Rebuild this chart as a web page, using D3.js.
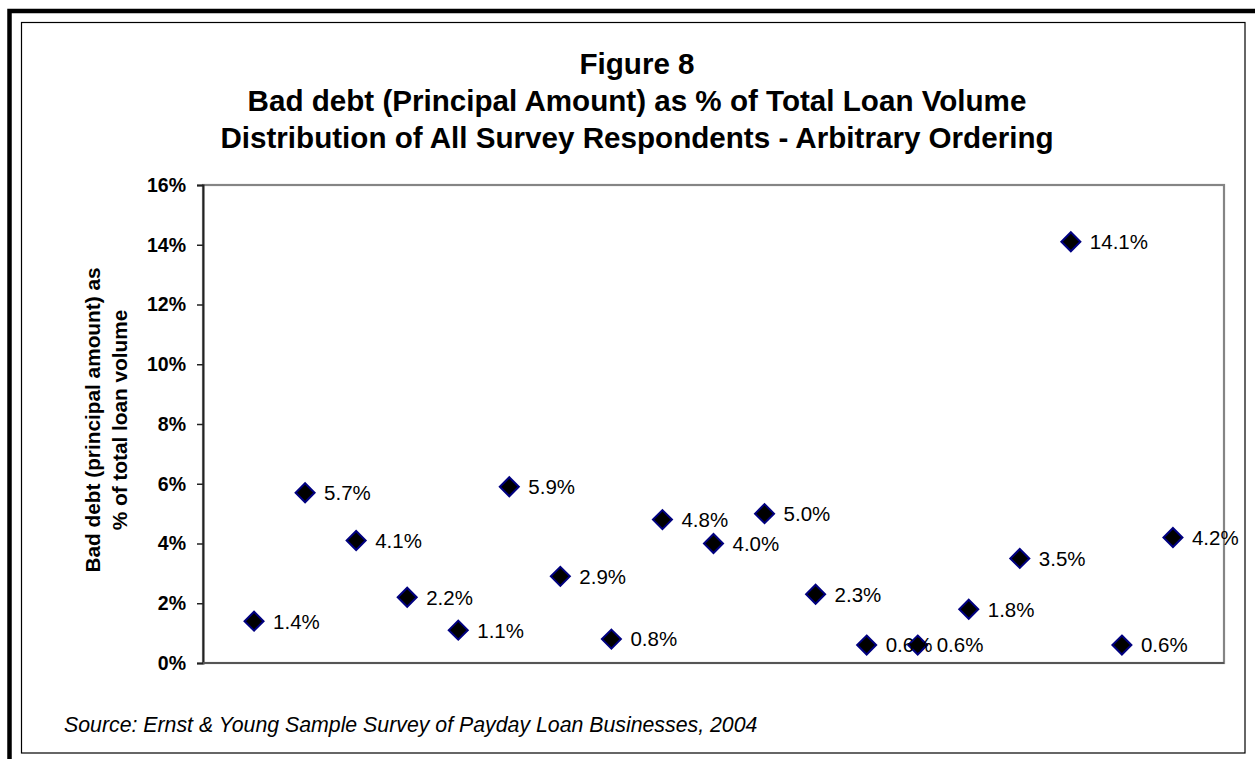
<!DOCTYPE html>
<html>
<head>
<meta charset="utf-8">
<script src="https://cdn.jsdelivr.net/npm/d3@7"></script>
<style>
  html, body { margin: 0; padding: 0; background: #fff; }
  svg { display: block; font-family: "Liberation Sans", Arial, sans-serif; }
</style>
</head>
<body>
<svg id="chart" width="1255" height="759"></svg>
<script>
// ---- data ----
const respondents = d3.range(1, 20); // 19 survey respondents, arbitrary ordering
const badDebtPct = [1.4, 5.7, 4.1, 2.2, 1.1, 5.9, 2.9, 0.8, 4.8, 4.0, 5.0, 2.3, 0.6, 0.6, 1.8, 3.5, 14.1, 0.6, 4.2];
const yTicks = [0, 2, 4, 6, 8, 10, 12, 14, 16];
const titleLines = [
  "Figure 8",
  "Bad debt (Principal Amount) as % of Total Loan Volume",
  "Distribution of All Survey Respondents - Arbitrary Ordering"
];
const yTitleLines = ["Bad debt (principal amount) as", "% of total loan volume"];
const sourceText = "Source: Ernst & Young Sample Survey of Payday Loan Businesses, 2004";

// ---- layout ----
const W = 1255, H = 759;
const plot = { left: 203, right: 1224, top: 185, bottom: 663 };

const svg = d3.select("#chart");

// frames
svg.append("rect").attr("x", 9.5).attr("y", 11).attr("width", W + 20).attr("height", H + 20)
  .attr("fill", "none").attr("stroke", "#000").attr("stroke-width", 4.5);
svg.append("rect").attr("x", 21.5).attr("y", 22.5).attr("width", 1245 - 21.5).attr("height", 753 - 22.5)
  .attr("fill", "none").attr("stroke", "#000").attr("stroke-width", 1.2);

// scales
const x = d3.scaleLinear().domain([0, respondents.length + 1]).range([plot.left, plot.right]);
const y = d3.scaleLinear().domain([0, 16]).range([plot.bottom, plot.top]);

// plot border
svg.append("rect")
  .attr("x", plot.left).attr("y", plot.top)
  .attr("width", plot.right - plot.left).attr("height", plot.bottom - plot.top)
  .attr("fill", "#fff").attr("stroke", "#858585").attr("stroke-width", 2.2);

// y axis
const yAxis = d3.axisLeft(y).tickValues(yTicks).tickFormat(d => d + "%").tickSize(6).tickPadding(11);
const gy = svg.append("g").attr("transform", `translate(${plot.left},0)`).call(yAxis);
gy.select(".domain").attr("stroke", "#222").attr("stroke-width", 2);
gy.selectAll(".tick line").attr("stroke", "#222").attr("stroke-width", 1.5);
gy.selectAll(".tick text")
  .attr("font-family", "Liberation Sans, Arial, sans-serif")
  .attr("font-size", 19.5).attr("font-weight", "bold").attr("fill", "#000");

// bottom axis line
svg.append("line")
  .attr("x1", plot.left).attr("x2", plot.right)
  .attr("y1", y(0)).attr("y2", y(0))
  .attr("stroke", "#555").attr("stroke-width", 2);

// title
svg.append("g").selectAll("text").data(titleLines).join("text")
  .attr("x", 637).attr("y", (d, i) => 74 + i * 37)
  .attr("text-anchor", "middle")
  .attr("font-size", 29.6).attr("font-weight", "bold").attr("fill", "#000")
  .text(d => d);

// y title
svg.append("g").selectAll("text").data(yTitleLines).join("text")
  .attr("transform", (d, i) => `translate(${100 + i * 27},420) rotate(-90)`)
  .attr("text-anchor", "middle")
  .attr("font-size", 20.8).attr("font-weight", "bold").attr("fill", "#000")
  .text(d => d);

// points
const pts = respondents.map((r, i) => ({ r, v: badDebtPct[i] }));
const diamond = s => `M0,${-s}L${s},0L0,${s}L${-s},0Z`;

svg.append("g").selectAll("path").data(pts).join("path")
  .attr("d", diamond(9.5))
  .attr("transform", d => `translate(${x(d.r)},${y(d.v)})`)
  .attr("fill", "#000").attr("stroke", "#000080").attr("stroke-width", 2);

svg.append("g").selectAll("text").data(pts).join("text")
  .attr("x", d => x(d.r) + 19).attr("y", d => y(d.v))
  .attr("dy", "0.36em")
  .attr("font-size", 20.5).attr("fill", "#000")
  .text(d => d.v.toFixed(1) + "%");

// source
svg.append("text")
  .attr("x", 64).attr("y", 732)
  .attr("font-size", 21.3).attr("font-style", "italic").attr("fill", "#000")
  .text(sourceText);
</script>
</body>
</html>
